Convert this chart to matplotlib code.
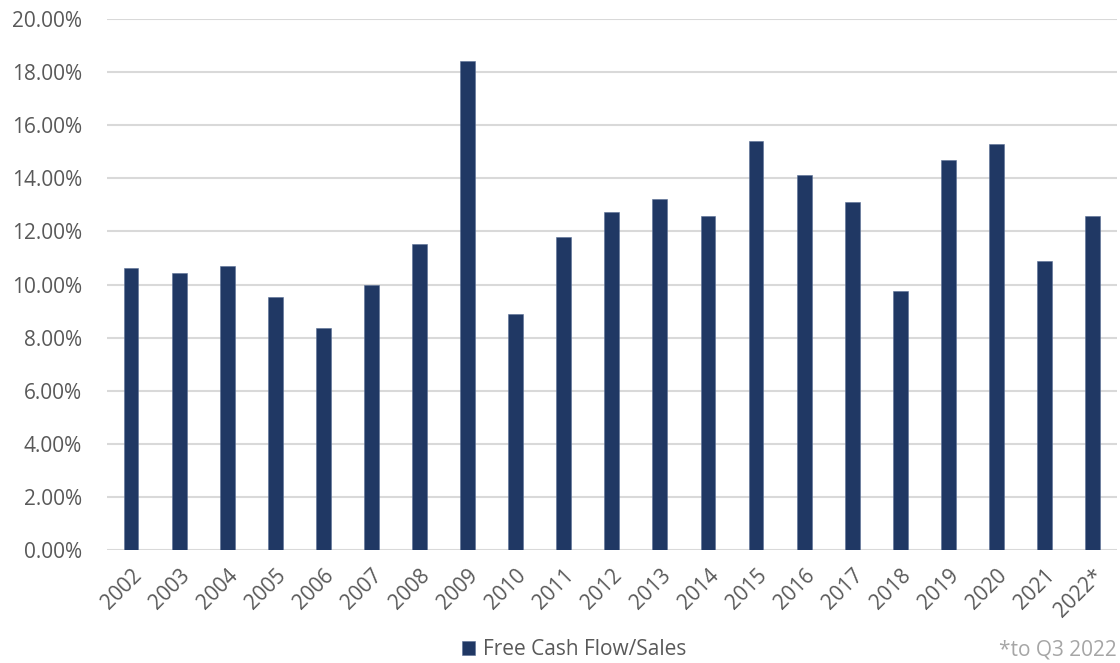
import matplotlib.pyplot as plt
from matplotlib.ticker import FuncFormatter

years = ['2002', '2003', '2004', '2005', '2006', '2007', '2008', '2009', '2010', '2011',
         '2012', '2013', '2014', '2015', '2016', '2017', '2018', '2019', '2020', '2021', '2022*']
fcf_sales = [10.62, 10.42, 10.70, 9.52, 8.37, 9.97, 11.51, 18.42, 8.88, 11.80,
             12.73, 13.22, 12.57, 15.42, 14.12, 13.11, 9.76, 14.69, 15.29, 10.87, 12.57]

plt.rcParams['font.family'] = ['Open Sans', 'DejaVu Sans']

fig = plt.figure(figsize=(11.2, 6.63), dpi=100)
ax = fig.add_axes([0.0955, 0.1704, 0.9015, 0.8009])

x = range(len(years))
bars = ax.bar(x, fcf_sales, width=0.31, color='#203864', edgecolor='#5a6f96',
              linewidth=0.4, label='Free Cash Flow/Sales', zorder=3)

ax.set_ylim(0, 20)
ax.set_xlim(-0.5, len(years) - 0.5)
ax.set_yticks(range(0, 21, 2))
ax.yaxis.set_major_formatter(FuncFormatter(lambda v, p: '%.2f%%' % v))
ax.set_xticks(list(x))
ax.set_xticklabels(years, rotation=45, ha='right', rotation_mode='anchor')

ax.grid(axis='y', color='#d9d9d9', linewidth=1.5, zorder=0)
for s in ax.spines.values():
    s.set_visible(False)
ax.tick_params(axis='both', length=0, colors='#595959', labelsize=15)
ax.tick_params(axis='y', pad=18)
ax.tick_params(axis='x', pad=11)

fig.legend(handles=[bars], loc='center', bbox_to_anchor=(0.513, 0.02), frameon=False,
           fontsize=15, labelcolor='#595959', handlelength=0.6, handleheight=0.6,
           handletextpad=0.4)
fig.text(0.892, 0.02, '*to Q3 2022', ha='left', va='center', fontsize=15, color='#a6a6a6')

fig.savefig('out.png', dpi=100)
